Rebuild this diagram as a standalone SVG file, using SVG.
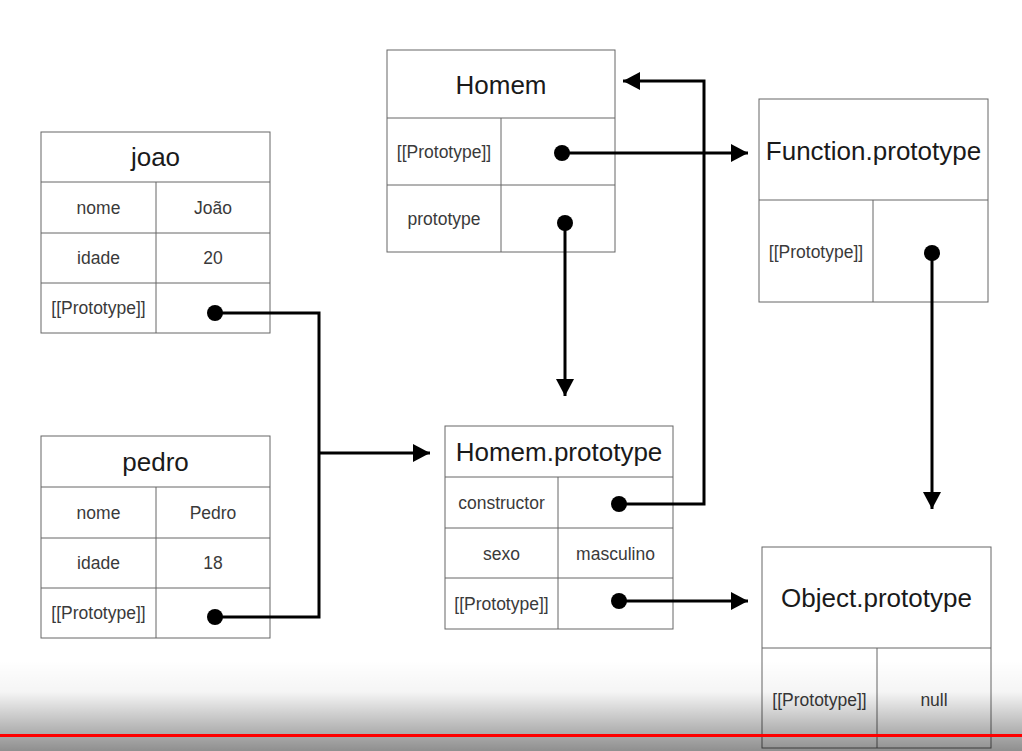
<svg xmlns="http://www.w3.org/2000/svg" width="1022" height="751" viewBox="0 0 1022 751">
<defs>
<marker id="ah" viewBox="0 0 17 18" refX="17" refY="9" markerWidth="17" markerHeight="18" markerUnits="userSpaceOnUse" orient="auto"><path d="M0,0 L17,9 L0,18 z" fill="#000"/></marker>
<linearGradient id="shade" x1="0" y1="0" x2="0" y2="1">
<stop offset="0" stop-color="#000" stop-opacity="0"/>
<stop offset="0.35" stop-color="#000" stop-opacity="0.04"/>
<stop offset="1" stop-color="#000" stop-opacity="0.44"/>
</linearGradient>
</defs>
<style>
.box{fill:#fff;stroke:#666;stroke-width:1}
.ln{stroke:#666;stroke-width:1;fill:none}
.t{font-family:"Liberation Sans",Arial,sans-serif;font-size:26px;fill:#1a1a1a;text-anchor:middle}
.s{font-family:"Liberation Sans",Arial,sans-serif;font-size:17.5px;fill:#3a3a3a;text-anchor:middle}
.c{stroke:#000;stroke-width:3;fill:none}
.d{fill:#000}
</style>
<rect width="1022" height="751" fill="#fff"/>

<g id="joao">
<rect class="box" x="41" y="132" width="229" height="201"/>
<path class="ln" d="M41,182H270M41,233H270M41,283H270M156,182V333"/>
<text class="t" x="155.5" y="166">joao</text>
<text class="s" x="98.5" y="214">nome</text>
<text class="s" x="213" y="214">João</text>
<text class="s" x="98.5" y="264">idade</text>
<text class="s" x="213" y="264">20</text>
<text class="s" x="98.5" y="314">[[Prototype]]</text>
</g>

<g id="pedro">
<rect class="box" x="41" y="436" width="229" height="202"/>
<path class="ln" d="M41,487H270M41,538H270M41,588H270M156,487V638"/>
<text class="t" x="155.5" y="471">pedro</text>
<text class="s" x="98.5" y="519">nome</text>
<text class="s" x="213" y="519">Pedro</text>
<text class="s" x="98.5" y="569">idade</text>
<text class="s" x="213" y="569">18</text>
<text class="s" x="98.5" y="619">[[Prototype]]</text>
</g>

<g id="homem">
<rect class="box" x="387" y="50" width="228" height="202"/>
<path class="ln" d="M387,118H615M387,185H615M501,118V252"/>
<text class="t" x="501" y="94">Homem</text>
<text class="s" x="444" y="158">[[Prototype]]</text>
<text class="s" x="444" y="225">prototype</text>
</g>

<g id="homem-prototype">
<rect class="box" x="445" y="426" width="228" height="203"/>
<path class="ln" d="M445,477H673M445,528H673M445,578H673M558,477V629"/>
<text class="t" x="559" y="461">Homem.prototype</text>
<text class="s" x="501.5" y="509">constructor</text>
<text class="s" x="501.5" y="560">sexo</text>
<text class="s" x="615.5" y="560">masculino</text>
<text class="s" x="501.5" y="610">[[Prototype]]</text>
</g>

<g id="function-prototype">
<rect class="box" x="759" y="99" width="229" height="203"/>
<path class="ln" d="M759,200H988M873,200V302"/>
<text class="t" x="873.5" y="160">Function.prototype</text>
<text class="s" x="816" y="258">[[Prototype]]</text>
</g>

<g id="object-prototype">
<rect class="box" x="762" y="547" width="229" height="201"/>
<path class="ln" d="M762,648H991M877,648V748"/>
<text class="t" x="876.5" y="607">Object.prototype</text>
<text class="s" x="819.5" y="706">[[Prototype]]</text>
<text class="s" x="934" y="706">null</text>
</g>

<g id="connectors">
<path class="c" d="M215,313H319V617H215"/>
<path class="c" d="M319,453H430" marker-end="url(#ah)"/>
<circle class="d" cx="215" cy="313" r="8"/>
<circle class="d" cx="215" cy="617" r="8"/>
<path class="c" d="M562,153H748" marker-end="url(#ah)"/>
<circle class="d" cx="562" cy="153" r="8"/>
<path class="c" d="M565,223V396" marker-end="url(#ah)"/>
<circle class="d" cx="565" cy="223" r="8"/>
<path class="c" d="M619,504H704V81H623" marker-end="url(#ah)"/>
<circle class="d" cx="619" cy="504" r="8"/>
<path class="c" d="M932,253V509" marker-end="url(#ah)"/>
<circle class="d" cx="932" cy="253" r="8"/>
<path class="c" d="M619,601H748" marker-end="url(#ah)"/>
<circle class="d" cx="619" cy="601" r="8"/>
</g>

<rect x="0" y="660" width="1022" height="91" fill="url(#shade)"/>
<rect x="0" y="734" width="1022" height="3" fill="#f00"/>
</svg>
